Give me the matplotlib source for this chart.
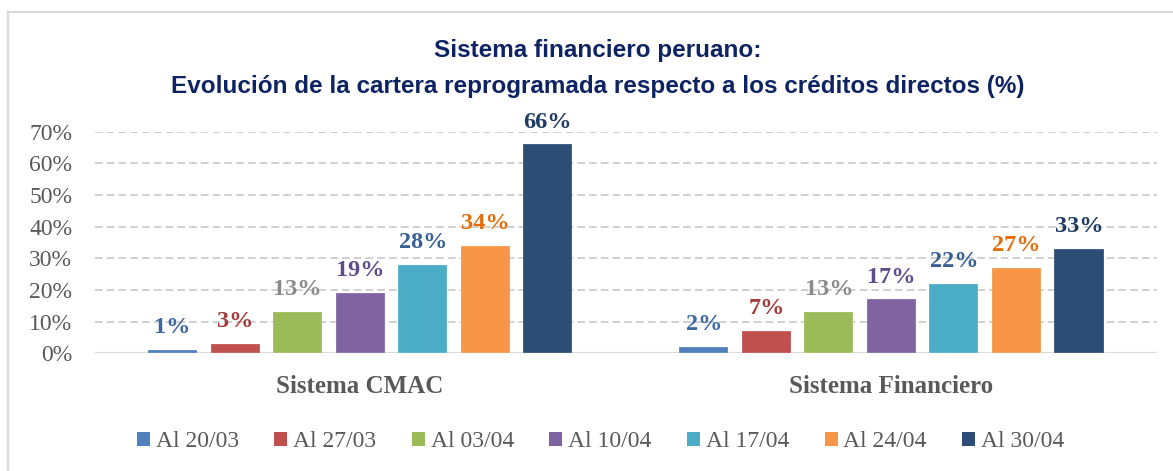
import matplotlib
matplotlib.use("Agg")
import matplotlib.pyplot as plt
from matplotlib import font_manager
from matplotlib.patches import Patch
from matplotlib.lines import Line2D

# ---------------- data ----------------
categories = ["Sistema CMAC", "Sistema Financiero"]
series_names = ["Al 20/03", "Al 27/03", "Al 03/04", "Al 10/04", "Al 17/04", "Al 24/04", "Al 30/04"]
cmac_values = [1, 3, 13, 19, 28, 34, 66]
sf_values = [2, 7, 13, 17, 22, 27, 33]
y_ticks = [0, 10, 20, 30, 40, 50, 60, 70]
title_line1 = "Sistema financiero peruano:"
title_line2 = "Evolución de la cartera reprogramada respecto a los créditos directos (%)"

bar_colors = ["#4F81BD", "#C0504D", "#9BBB59", "#8064A2", "#4BACC6", "#F79646", "#2C4D75"]
label_colors = ["#3D68A3", "#A33B3A", "#8A8A8A", "#5F4B8B", "#376092", "#E46C0A", "#1F3B64"]

# ---------------- fonts ----------------
names = {f.name for f in font_manager.fontManager.ttflist}
title_font = "Liberation Sans Narrow" if "Liberation Sans Narrow" in names else "Liberation Sans"
serif_font = "Liberation Serif"

fig = plt.figure(figsize=(11.73, 4.71), dpi=100)
ax = fig.add_axes([0.0806, 0.2499, 0.9058, 0.4705])

step = 0.1177
width = 0.0923
n = len(series_names)
for i in range(n):
    vals = [cmac_values[i], sf_values[i]]
    xs = [c + (i - (n - 1) / 2) * step for c in range(len(categories))]
    ax.bar(xs, vals, width=width, color=bar_colors[i], edgecolor=(1, 1, 1, 0.5),
           linewidth=0.35, zorder=3)
    for x, v in zip(xs, vals):
        ax.annotate(f"{v}%", (x, v), xytext=(0, 12), textcoords="offset points",
                    ha="center", va="baseline", fontsize=17.5, fontweight="bold",
                    family=serif_font, color=label_colors[i], zorder=4)

ax.set_xlim(-0.5, 1.5)
ax.set_ylim(0, 70)
ax.set_yticks(y_ticks)
ax.set_yticklabels([f"{t}%" for t in y_ticks], family=serif_font, fontsize=17, color="#595959")
ax.tick_params(axis="y", length=0, pad=16)
ax.set_xticks([])
for s in ax.spines.values():
    s.set_visible(False)

for t in y_ticks[1:]:
    ax.axhline(t, color="#C3C3C3", lw=1.1, ls=(0, (5, 2.7)), zorder=1)
ax.axhline(0, color="#D9D9D9", lw=1.6, zorder=2)

for c, name in enumerate(categories):
    ax.text(c, -0.151, name, transform=ax.get_xaxis_transform(), ha="center", va="center",
            family=serif_font, fontsize=18, fontweight="bold", color="#595959")

# title
fig.text(0.5094, 1 - 57 / 471, title_line1, ha="center", va="baseline",
         family=title_font, fontsize=17.5, fontweight="bold", color="#0E2362")
fig.text(0.5094, 1 - 92.5 / 471, title_line2, ha="center", va="baseline",
         family=title_font, fontsize=17.5, fontweight="bold", color="#0E2362")

# legend
handles = [Patch(facecolor=c, edgecolor="none") for c in bar_colors]
leg = fig.legend(handles, series_names, loc="center", bbox_to_anchor=(0.512, 1 - 441.7 / 471),
                 ncol=n, frameon=False, prop={"family": serif_font, "size": 17},
                 handlelength=0.55, handleheight=0.55, handletextpad=0.25, columnspacing=1.5)
for t in leg.get_texts():
    t.set_color("#595959")

# outer frame (left and top edges visible)
fig.add_artist(Line2D([7.5 / 1173, 7.5 / 1173], [0, 1 - 12 / 471], transform=fig.transFigure,
                      color="#D9D9D9", lw=1.6))
fig.add_artist(Line2D([7.5 / 1173, 1], [1 - 12 / 471, 1 - 12 / 471], transform=fig.transFigure,
                      color="#D9D9D9", lw=1.6))

fig.savefig("out.png", dpi=100)
